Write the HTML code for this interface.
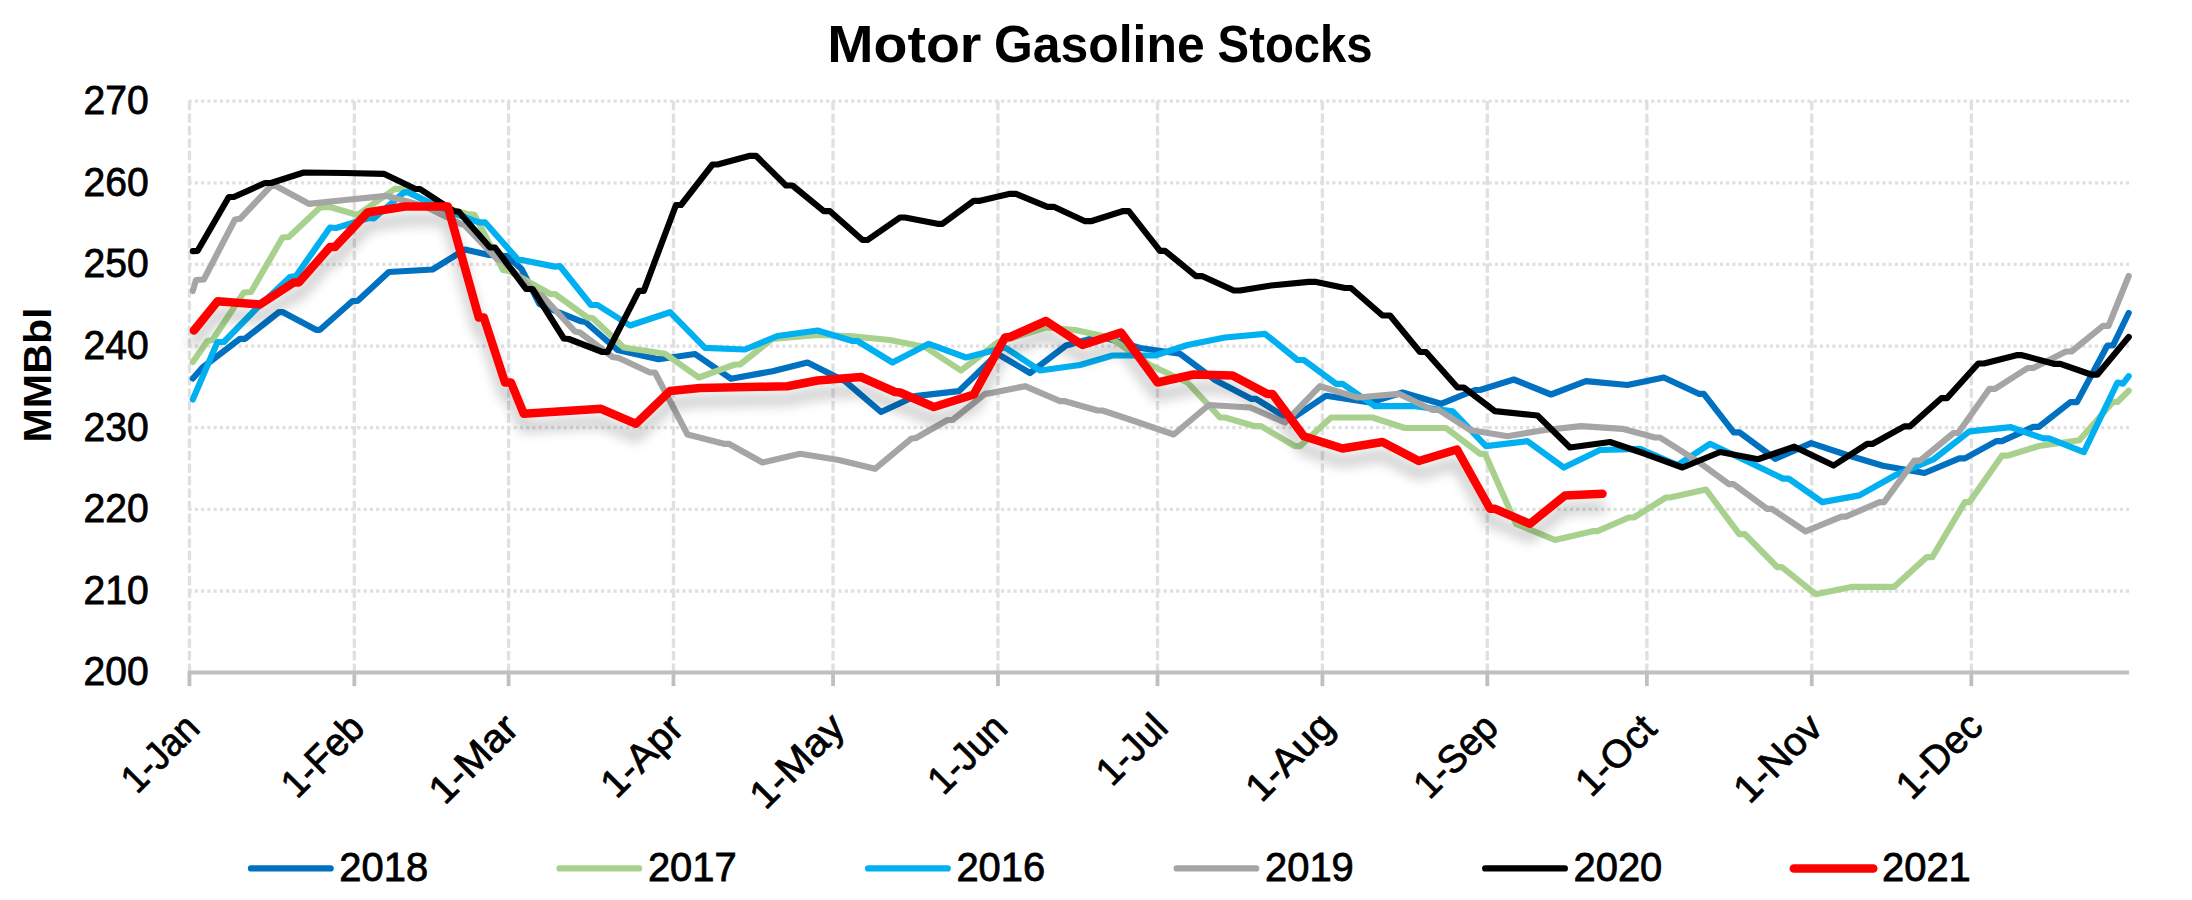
<!DOCTYPE html>
<html><head><meta charset="utf-8"><title>Motor Gasoline Stocks</title>
<style>html,body{margin:0;padding:0;background:#fff;overflow:hidden;}svg{display:block;}text{font-family:"Liberation Sans",sans-serif;fill:#000;}.r{stroke:#000;stroke-width:0.8px;}</style></head><body>
<svg width="2192" height="900" viewBox="0 0 2192 900">
<defs><filter id="sh" x="-5%" y="-20%" width="110%" height="150%"><feGaussianBlur in="SourceAlpha" stdDeviation="6.5"/><feOffset dx="0" dy="12.5" result="b"/><feComponentTransfer><feFuncA type="linear" slope="0.27"/></feComponentTransfer><feMerge><feMergeNode/><feMergeNode in="SourceGraphic"/></feMerge></filter></defs>
<rect width="2192" height="900" fill="#fff"/>
<g stroke="#e0e0e0" stroke-width="3.3" fill="none">
<line x1="188.60" x2="2129.1" y1="101.20" y2="101.20" stroke-dasharray="3.125 3.125"/>
<line x1="188.60" x2="2129.1" y1="182.83" y2="182.83" stroke-dasharray="3.125 3.125"/>
<line x1="188.60" x2="2129.1" y1="264.46" y2="264.46" stroke-dasharray="3.125 3.125"/>
<line x1="188.60" x2="2129.1" y1="346.09" y2="346.09" stroke-dasharray="3.125 3.125"/>
<line x1="188.60" x2="2129.1" y1="427.72" y2="427.72" stroke-dasharray="3.125 3.125"/>
<line x1="188.60" x2="2129.1" y1="509.35" y2="509.35" stroke-dasharray="3.125 3.125"/>
<line x1="188.60" x2="2129.1" y1="590.98" y2="590.98" stroke-dasharray="3.125 3.125"/>
<line x1="189.45" x2="189.45" y1="100.90" y2="672.5" stroke-dasharray="9.375 3.125"/>
<line x1="354.34" x2="354.34" y1="100.90" y2="672.5" stroke-dasharray="9.375 3.125"/>
<line x1="508.59" x2="508.59" y1="100.90" y2="672.5" stroke-dasharray="9.375 3.125"/>
<line x1="673.48" x2="673.48" y1="100.90" y2="672.5" stroke-dasharray="9.375 3.125"/>
<line x1="833.05" x2="833.05" y1="100.90" y2="672.5" stroke-dasharray="9.375 3.125"/>
<line x1="997.94" x2="997.94" y1="100.90" y2="672.5" stroke-dasharray="9.375 3.125"/>
<line x1="1157.51" x2="1157.51" y1="100.90" y2="672.5" stroke-dasharray="9.375 3.125"/>
<line x1="1322.40" x2="1322.40" y1="100.90" y2="672.5" stroke-dasharray="9.375 3.125"/>
<line x1="1487.29" x2="1487.29" y1="100.90" y2="672.5" stroke-dasharray="9.375 3.125"/>
<line x1="1646.86" x2="1646.86" y1="100.90" y2="672.5" stroke-dasharray="9.375 3.125"/>
<line x1="1811.75" x2="1811.75" y1="100.90" y2="672.5" stroke-dasharray="9.375 3.125"/>
<line x1="1971.32" x2="1971.32" y1="100.90" y2="672.5" stroke-dasharray="9.375 3.125"/>
</g>
<g stroke="#bfbfbf" stroke-width="3.8" fill="none">
<line x1="187.8" x2="2129.1" y1="672.5" y2="672.5"/>
<line x1="189.45" x2="189.45" y1="672.5" y2="686.1"/>
<line x1="354.34" x2="354.34" y1="672.5" y2="686.1"/>
<line x1="508.59" x2="508.59" y1="672.5" y2="686.1"/>
<line x1="673.48" x2="673.48" y1="672.5" y2="686.1"/>
<line x1="833.05" x2="833.05" y1="672.5" y2="686.1"/>
<line x1="997.94" x2="997.94" y1="672.5" y2="686.1"/>
<line x1="1157.51" x2="1157.51" y1="672.5" y2="686.1"/>
<line x1="1322.40" x2="1322.40" y1="672.5" y2="686.1"/>
<line x1="1487.29" x2="1487.29" y1="672.5" y2="686.1"/>
<line x1="1646.86" x2="1646.86" y1="672.5" y2="686.1"/>
<line x1="1811.75" x2="1811.75" y1="672.5" y2="686.1"/>
<line x1="1971.32" x2="1971.32" y1="672.5" y2="686.1"/>
</g>
<path d="M192.8 378.5 L202.5 367.5 L240.0 338.8 L245.0 338.8 L278.8 312.2 L283.0 312.2 L316.0 329.8 L320.0 329.8 L352.5 301.0 L357.5 301.0 L388.8 272.0 L432.5 269.5 L465.0 249.5 L489.0 255.0 L507.0 256.0 L521.5 269.0 L539.5 304.0 L544.5 306.5 L581.0 321.3 L585.5 322.0 L617.5 350.0 L658.5 359.2 L695.0 354.0 L731.0 378.8 L772.5 371.2 L807.5 362.5 L845.0 381.2 L881.0 412.0 L915.0 396.2 L958.8 391.2 L997.5 353.8 L1030.0 373.0 L1066.0 345.5 L1100.0 336.2 L1140.0 348.0 L1180.0 353.8 L1215.0 380.0 L1251.0 398.8 L1256.0 398.8 L1290.0 420.0 L1326.0 395.8 L1370.0 402.5 L1402.5 392.5 L1441.0 403.8 L1475.0 390.0 L1480.0 390.0 L1513.8 379.5 L1551.0 394.5 L1586.0 381.2 L1627.5 385.0 L1663.8 377.5 L1698.8 393.8 L1703.8 393.8 L1733.7 432.3 L1739.3 432.3 L1775.2 458.8 L1811.1 443.1 L1847.0 455.0 L1882.9 465.8 L1924.5 473.0 L1959.3 458.4 L1964.9 458.4 L1996.3 441.1 L2001.9 441.1 L2033.3 426.8 L2039.0 426.8 L2070.4 402.1 L2077.0 402.1 L2107.4 345.5 L2113.0 345.5 L2128.7 313.0" fill="none" stroke="#0070c0" stroke-width="6.2" stroke-linejoin="round" stroke-linecap="round"/>
<path d="M192.8 362.0 L207.5 341.0 L212.5 340.0 L243.8 292.5 L251.0 292.0 L282.5 237.5 L288.8 237.0 L320.0 207.5 L330.0 207.0 L357.5 215.0 L395.0 188.8 L401.0 188.8 L435.0 205.0 L467.5 214.0 L474.5 214.8 L503.0 270.0 L509.0 271.0 L550.0 293.8 L555.0 294.0 L587.5 317.5 L592.5 318.0 L623.8 347.5 L665.0 353.8 L698.8 377.5 L735.0 364.5 L740.0 364.5 L772.5 338.8 L817.5 335.0 L850.0 336.2 L890.0 340.0 L925.0 347.0 L961.0 370.5 L997.5 342.5 L1046.0 327.5 L1075.0 330.0 L1110.0 337.5 L1150.0 365.0 L1187.5 382.5 L1220.0 417.5 L1225.0 417.5 L1255.0 426.2 L1261.0 426.2 L1295.0 446.2 L1300.0 446.2 L1331.0 417.5 L1372.5 417.5 L1405.0 428.0 L1446.0 428.0 L1480.0 453.8 L1485.0 453.8 L1516.0 523.8 L1555.0 540.0 L1592.5 531.2 L1597.5 531.2 L1628.8 517.5 L1633.8 517.5 L1666.0 497.5 L1670.0 497.5 L1706.0 489.5 L1739.3 534.2 L1744.9 534.2 L1777.4 567.2 L1781.9 567.2 L1815.6 594.2 L1852.6 586.8 L1894.2 586.8 L1926.7 557.1 L1932.3 557.1 L1964.9 502.1 L1969.4 502.1 L2001.9 455.7 L2007.5 455.7 L2038.9 446.0 L2079.3 440.2 L2113.0 402.0 L2117.5 402.0 L2128.7 390.8" fill="none" stroke="#a9d18e" stroke-width="6.2" stroke-linejoin="round" stroke-linecap="round"/>
<path d="M192.8 399.5 L217.5 342.0 L223.8 342.0 L255.0 310.0 L290.0 277.0 L296.0 276.0 L330.0 227.5 L336.0 228.0 L368.8 218.0 L373.8 218.5 L404.0 192.3 L408.0 192.1 L443.0 209.5 L479.0 222.3 L485.0 222.3 L518.5 260.2 L523.0 260.2 L555.0 266.6 L560.0 266.2 L591.0 305.0 L597.5 305.0 L630.0 325.5 L670.0 312.2 L705.0 347.8 L745.0 349.5 L777.5 336.0 L817.5 330.5 L852.5 341.0 L857.5 341.0 L892.5 362.5 L928.8 343.8 L966.0 357.5 L1005.0 347.5 L1040.0 370.5 L1080.0 365.0 L1112.5 355.5 L1155.0 355.5 L1187.5 345.0 L1225.0 337.5 L1265.0 333.8 L1297.5 360.0 L1303.8 360.0 L1336.0 383.8 L1342.5 383.8 L1375.0 406.2 L1415.0 406.2 L1452.5 411.2 L1486.0 446.2 L1527.5 441.2 L1563.8 467.5 L1600.0 450.0 L1640.0 448.8 L1677.5 465.0 L1710.0 443.8 L1744.9 460.2 L1783.0 478.6 L1788.7 478.6 L1822.3 502.1 L1859.4 495.4 L1895.3 475.2 L1933.4 459.5 L1969.4 431.4 L2010.9 427.2 L2043.4 438.4 L2049.0 438.4 L2083.8 452.1 L2117.5 382.5 L2123.0 383.6 L2128.7 376.2" fill="none" stroke="#00b0f0" stroke-width="6.2" stroke-linejoin="round" stroke-linecap="round"/>
<path d="M192.8 291.0 L196.0 280.0 L203.8 279.5 L235.0 219.5 L240.0 218.8 L271.0 186.0 L276.0 186.0 L308.8 203.8 L345.0 200.0 L386.0 195.8 L424.0 206.0 L461.5 224.3 L464.0 224.7 L497.5 259.5 L502.0 260.5 L537.5 294.0 L542.0 295.5 L575.0 331.5 L580.0 332.5 L612.5 357.0 L618.8 358.0 L650.0 372.5 L655.0 372.5 L687.5 434.5 L723.8 443.8 L728.8 443.8 L762.5 462.5 L800.0 453.8 L838.8 460.0 L875.0 468.8 L911.0 438.8 L916.0 438.0 L947.5 420.0 L952.5 420.0 L985.0 393.8 L990.0 393.2 L1025.0 386.2 L1060.0 401.2 L1065.0 401.2 L1097.5 410.5 L1102.5 410.5 L1135.0 421.2 L1173.8 434.5 L1208.8 405.0 L1250.0 407.5 L1285.0 422.5 L1320.0 386.2 L1357.5 397.5 L1398.8 393.8 L1432.5 410.0 L1438.8 410.0 L1470.0 430.0 L1507.5 436.2 L1545.0 430.0 L1581.0 426.2 L1622.5 428.8 L1655.0 437.5 L1660.0 437.5 L1700.0 462.9 L1729.2 484.2 L1733.7 484.2 L1767.3 508.9 L1771.8 508.9 L1805.5 531.3 L1841.4 516.7 L1845.9 516.7 L1879.6 502.1 L1884.1 502.1 L1914.4 460.6 L1920.0 460.6 L1953.6 433.0 L1958.1 433.0 L1989.5 388.8 L1995.0 388.8 L2027.7 368.0 L2033.3 368.0 L2066.0 351.5 L2071.5 351.5 L2103.0 325.8 L2108.5 325.8 L2128.7 276.0" fill="none" stroke="#a5a5a5" stroke-width="6.2" stroke-linejoin="round" stroke-linecap="round"/>
<path d="M192.8 251.2 L197.5 251.0 L228.8 197.0 L233.8 197.0 L265.0 183.0 L271.0 183.0 L303.8 172.5 L345.0 173.0 L383.8 173.8 L415.0 188.8 L420.0 189.0 L453.8 211.0 L458.8 211.8 L490.0 247.5 L495.0 247.5 L526.0 288.8 L532.5 289.0 L563.8 338.5 L568.8 339.0 L602.5 352.0 L607.5 352.0 L638.8 290.8 L643.8 290.8 L676.0 205.0 L681.0 205.0 L712.5 164.5 L717.5 164.5 L750.0 155.8 L756.0 155.8 L786.0 185.5 L792.5 185.5 L823.8 211.2 L830.0 211.2 L862.5 240.0 L867.5 240.0 L900.0 217.5 L905.0 217.5 L937.5 223.8 L942.5 223.8 L973.8 200.8 L980.0 200.8 L1010.0 193.8 L1016.0 193.8 L1047.5 206.8 L1053.8 206.8 L1085.0 221.2 L1091.0 221.2 L1122.5 211.2 L1128.8 211.2 L1160.0 250.8 L1165.0 250.8 L1196.0 276.2 L1202.5 276.2 L1233.8 290.5 L1240.0 290.5 L1271.0 285.5 L1308.8 281.8 L1315.0 281.8 L1345.0 288.0 L1351.0 288.0 L1382.5 315.5 L1390.0 315.5 L1420.0 352.0 L1426.0 352.0 L1457.5 387.5 L1463.8 387.5 L1495.0 411.2 L1537.5 415.5 L1570.0 447.5 L1610.0 442.0 L1645.0 453.8 L1682.5 467.5 L1720.2 452.0 L1758.0 459.2 L1794.3 446.7 L1833.6 465.5 L1867.2 443.8 L1872.8 443.8 L1904.3 426.4 L1909.9 426.4 L1941.3 398.2 L1947.0 398.2 L1978.3 363.5 L1984.0 363.5 L2016.5 355.2 L2022.0 355.2 L2054.6 363.9 L2060.3 363.9 L2091.7 374.7 L2097.3 374.7 L2128.7 337.0" fill="none" stroke="#000000" stroke-width="6.2" stroke-linejoin="round" stroke-linecap="round"/>
<path d="M193.9 330.5 L217.5 301.3 L260.0 304.5 L293.8 282.5 L298.8 282.5 L330.0 247.0 L335.0 247.0 L367.5 212.5 L405.0 206.5 L447.8 206.5 L478.8 317.5 L483.8 317.5 L505.0 382.5 L511.0 382.5 L523.8 413.8 L601.0 408.8 L636.0 423.8 L670.0 391.0 L700.0 388.0 L787.5 386.2 L817.5 380.5 L861.0 377.0 L895.0 392.0 L900.0 392.5 L933.8 407.0 L973.8 394.5 L1005.0 337.5 L1010.0 337.0 L1046.0 321.0 L1082.5 345.0 L1121.0 332.5 L1157.5 382.5 L1193.8 374.5 L1232.5 375.5 L1267.5 394.0 L1272.5 394.0 L1303.8 436.2 L1342.5 448.5 L1382.5 442.0 L1418.8 461.0 L1457.0 449.5 L1490.0 508.8 L1495.0 508.8 L1530.0 523.8 L1565.0 495.5 L1602.5 493.8" fill="none" stroke="#ff0000" stroke-width="8.5" stroke-linejoin="round" stroke-linecap="round" filter="url(#sh)"/>
<text y="62.4" font-size="52" font-weight="bold" lengthAdjust="spacingAndGlyphs"><tspan x="827.3" textLength="154.14" lengthAdjust="spacingAndGlyphs">Motor</tspan> <tspan x="994" textLength="210.67" lengthAdjust="spacingAndGlyphs">Gasoline</tspan> <tspan x="1217.6" textLength="155.07" lengthAdjust="spacingAndGlyphs">Stocks</tspan></text>
<text class="r" x="83.6" y="114.1" font-size="40" textLength="65.2" lengthAdjust="spacingAndGlyphs">270</text>
<text class="r" x="83.6" y="195.7" font-size="40" textLength="65.2" lengthAdjust="spacingAndGlyphs">260</text>
<text class="r" x="83.6" y="277.4" font-size="40" textLength="65.2" lengthAdjust="spacingAndGlyphs">250</text>
<text class="r" x="83.6" y="359.0" font-size="40" textLength="65.2" lengthAdjust="spacingAndGlyphs">240</text>
<text class="r" x="83.6" y="440.6" font-size="40" textLength="65.2" lengthAdjust="spacingAndGlyphs">230</text>
<text class="r" x="83.6" y="522.2" font-size="40" textLength="65.2" lengthAdjust="spacingAndGlyphs">220</text>
<text class="r" x="83.6" y="603.9" font-size="40" textLength="65.2" lengthAdjust="spacingAndGlyphs">210</text>
<text class="r" x="83.6" y="685.1" font-size="40" textLength="65.2" lengthAdjust="spacingAndGlyphs">200</text>
<text transform="translate(51.3 375) rotate(-90)" font-size="38.5" font-weight="bold" text-anchor="middle" textLength="135" lengthAdjust="spacingAndGlyphs">MMBbl</text>
<text transform="translate(201.5 730.4) rotate(-45)" class="r" font-size="39" text-anchor="end" textLength="91.3" lengthAdjust="spacingAndGlyphs">1-Jan</text>
<text transform="translate(366.7 730.2) rotate(-45)" class="r" font-size="39" text-anchor="end" textLength="98.5" lengthAdjust="spacingAndGlyphs">1-Feb</text>
<text transform="translate(520.6 730.3) rotate(-45)" class="r" font-size="39" text-anchor="end" textLength="107.2" lengthAdjust="spacingAndGlyphs">1-Mar</text>
<text transform="translate(685.6 730.5) rotate(-45)" class="r" font-size="39" text-anchor="end" textLength="97.8" lengthAdjust="spacingAndGlyphs">1-Apr</text>
<text transform="translate(847.0 729.5) rotate(-45)" class="r" font-size="39" text-anchor="end" textLength="115.4" lengthAdjust="spacingAndGlyphs">1-May</text>
<text transform="translate(1009.5 730.3) rotate(-45)" class="r" font-size="39" text-anchor="end" textLength="93.2" lengthAdjust="spacingAndGlyphs">1-Jun</text>
<text transform="translate(1169.8 729.8) rotate(-45)" class="r" font-size="39" text-anchor="end" textLength="81.7" lengthAdjust="spacingAndGlyphs">1-Jul</text>
<text transform="translate(1336.4 728.6) rotate(-45)" class="r" font-size="39" text-anchor="end" textLength="105.9" lengthAdjust="spacingAndGlyphs">1-Aug</text>
<text transform="translate(1500.2 729.8) rotate(-45)" class="r" font-size="39" text-anchor="end" textLength="99.9" lengthAdjust="spacingAndGlyphs">1-Sep</text>
<text transform="translate(1658.6 730.8) rotate(-45)" class="r" font-size="39" text-anchor="end" textLength="95.4" lengthAdjust="spacingAndGlyphs">1-Oct</text>
<text transform="translate(1824.6 729.9) rotate(-45)" class="r" font-size="39" text-anchor="end" textLength="106.2" lengthAdjust="spacingAndGlyphs">1-Nov</text>
<text transform="translate(1984.8 728.6) rotate(-45)" class="r" font-size="39" text-anchor="end" textLength="102.8" lengthAdjust="spacingAndGlyphs">1-Dec</text>
<line x1="251.0" x2="330.6" y1="868.45" y2="868.45" stroke="#0070c0" stroke-width="6.3" stroke-linecap="round"/>
<text class="r" x="339.3" y="880.8" font-size="40" textLength="88.8" lengthAdjust="spacingAndGlyphs">2018</text>
<line x1="559.6" x2="639.1" y1="868.45" y2="868.45" stroke="#a9d18e" stroke-width="6.3" stroke-linecap="round"/>
<text class="r" x="647.9" y="880.8" font-size="40" textLength="88.8" lengthAdjust="spacingAndGlyphs">2017</text>
<line x1="868.1" x2="947.7" y1="868.45" y2="868.45" stroke="#00b0f0" stroke-width="6.3" stroke-linecap="round"/>
<text class="r" x="956.4" y="880.8" font-size="40" textLength="88.8" lengthAdjust="spacingAndGlyphs">2016</text>
<line x1="1176.7" x2="1256.2" y1="868.45" y2="868.45" stroke="#a5a5a5" stroke-width="6.3" stroke-linecap="round"/>
<text class="r" x="1265.0" y="880.8" font-size="40" textLength="88.8" lengthAdjust="spacingAndGlyphs">2019</text>
<line x1="1485.2" x2="1564.8" y1="868.45" y2="868.45" stroke="#000000" stroke-width="6.3" stroke-linecap="round"/>
<text class="r" x="1573.5" y="880.8" font-size="40" textLength="88.8" lengthAdjust="spacingAndGlyphs">2020</text>
<line x1="1793.8" x2="1873.3" y1="868.45" y2="868.45" stroke="#ff0000" stroke-width="8.5" stroke-linecap="round"/>
<text class="r" x="1882.0" y="880.8" font-size="40" textLength="88.8" lengthAdjust="spacingAndGlyphs">2021</text>
</svg></body></html>
